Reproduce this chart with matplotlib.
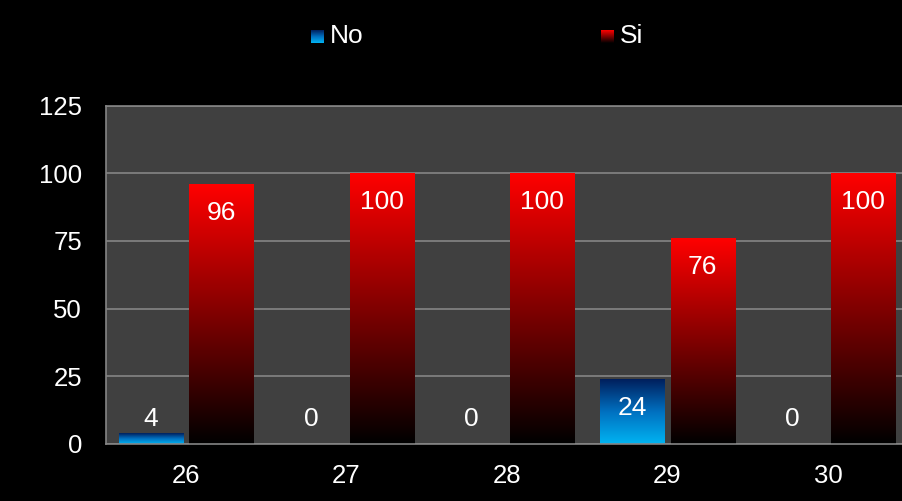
import numpy as np
import matplotlib.pyplot as plt
from matplotlib.colors import LinearSegmentedColormap

plt.rcParams['font.family'] = ['Liberation Sans', 'DejaVu Sans']

# data
categories = ["26", "27", "28", "29", "30"]
no_values = [4, 0, 0, 24, 0]
si_values = [96, 100, 100, 76, 100]
series_names = ["No", "Si"]
y_ticks = [0, 25, 50, 75, 100, 125]

# colours (bottom -> top of each bar)
blue_cmap = LinearSegmentedColormap.from_list("blu", ["#00b4f2", "#0070c0", "#001f5c"])
red_cmap = LinearSegmentedColormap.from_list("red", ["#000000", "#800000", "#ff0000"])

fig = plt.figure(figsize=(9.02, 5.01), dpi=100)
fig.patch.set_facecolor("black")
ax = fig.add_axes([0.1172, 0.1146, 0.8897, 0.674])
ax.set_facecolor("#404040")

grad = np.linspace(0, 1, 256).reshape(-1, 1)


def gradient_bars(xpos, values, width, cmap):
    bars = ax.bar(xpos, values, width, color="none", edgecolor="none", zorder=2)
    for b in bars:
        x0, y0 = b.get_x(), b.get_y()
        w, h = b.get_width(), b.get_height()
        if h <= 0:
            continue
        im = ax.imshow(grad, cmap=cmap, origin="lower", aspect="auto",
                       extent=[x0, x0 + w, y0, y0 + h], zorder=2)
        im.set_clip_path(b)
    return bars


x = np.arange(len(categories))
w = 0.4
off = 0.22
gradient_bars(x - off, no_values, w, blue_cmap)
gradient_bars(x + off, si_values, w, red_cmap)

# data labels, inside end, kept clear of the axis
for xs, vals in [(x - off, no_values), (x + off, si_values)]:
    for xi, v in zip(xs, vals):
        ax.annotate(str(v), (xi, max(v, 20)), xytext=(0, -29),
                    textcoords="offset pixels", ha="center", va="center",
                    color="white", fontsize=19, zorder=4)

ax.set_xlim(-0.5, len(categories) - 0.5)
ax.set_ylim(0, 125)
ax.set_yticks(y_ticks)
ax.set_xticks(x)
ax.set_xticklabels(categories)
ax.tick_params(axis="both", length=0, colors="white", labelsize=18.5)
ax.tick_params(axis="y", pad=17)
ax.tick_params(axis="x", pad=15)
ax.grid(axis="y", color="#858585", linewidth=1.2)
ax.set_axisbelow(True)
for s in ax.spines.values():
    s.set_color("#858585")
    s.set_linewidth(1.2)

# legend
leg_cmaps = [blue_cmap, red_cmap]
leg_x = [311, 601]
for name, cm, lx in zip(series_names, leg_cmaps, leg_x):
    lax = fig.add_axes([lx / 902, 1 - 43 / 501, 13 / 902, 13 / 501])
    lax.imshow(grad, cmap=cm, origin="lower", aspect="auto")
    lax.set_axis_off()
    fig.text((lx + 19) / 902, 1 - 36 / 501, name, color="white",
             fontsize=19, ha="left", va="center")

fig.savefig("out.png", dpi=100, facecolor=fig.get_facecolor())
